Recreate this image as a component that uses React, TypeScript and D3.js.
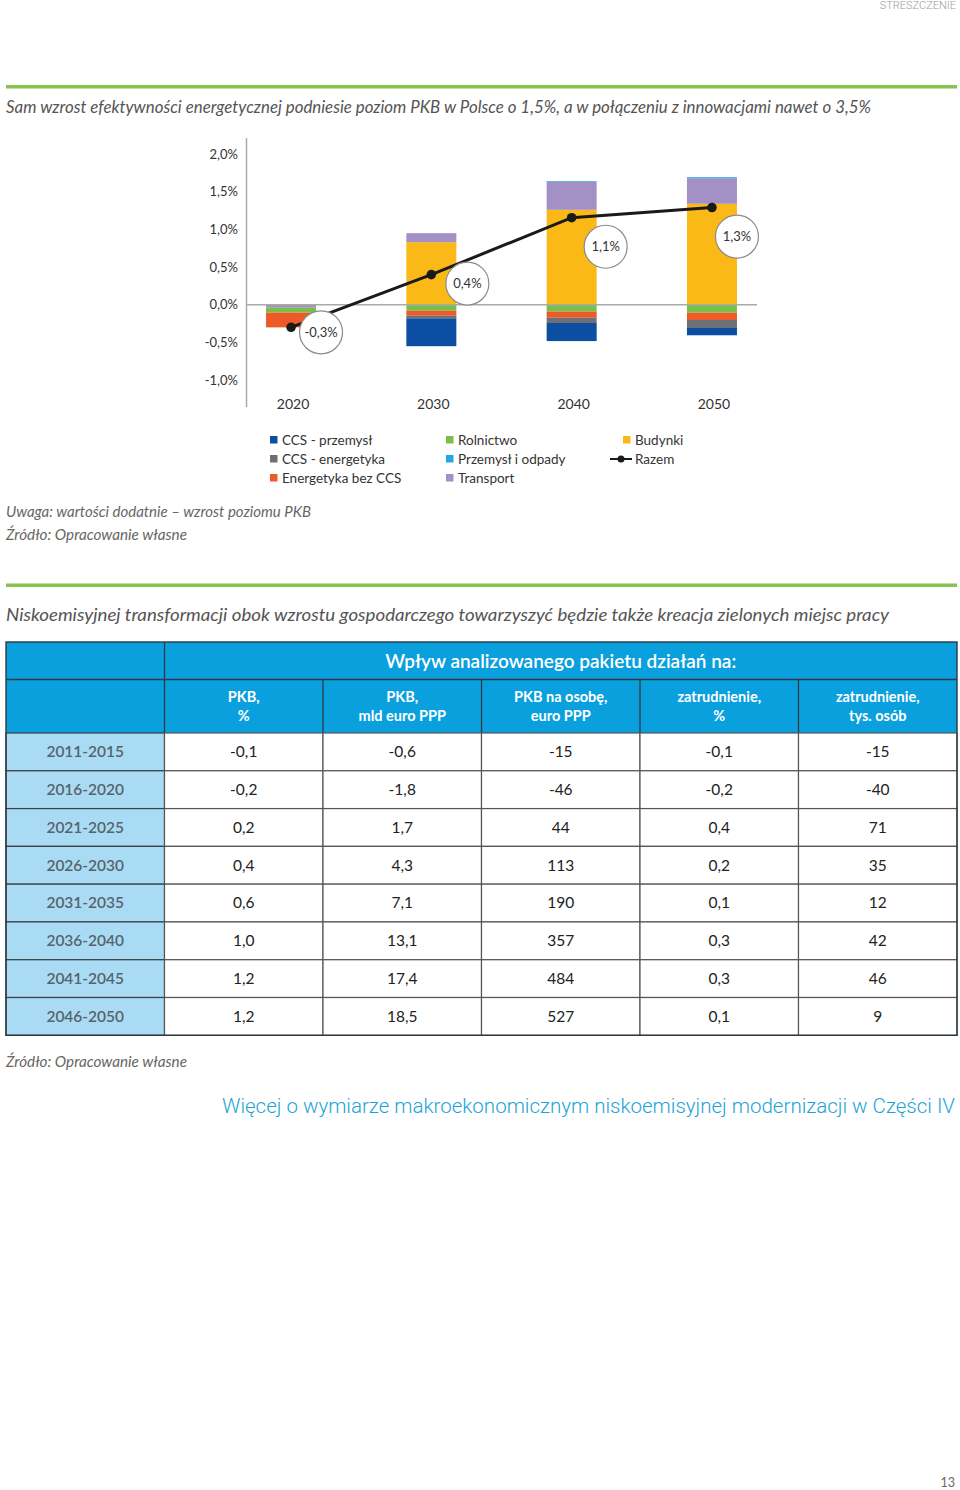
import React from 'react';
import * as d3 from 'd3';

// ---------- data ----------
const years = ['2020', '2030', '2040', '2050'];
const seriesKeys = ['Budynki', 'Transport', 'Przemysł i odpady', 'Rolnictwo', 'Energetyka bez CCS', 'CCS - energetyka', 'CCS - przemysł'];
const budynki = [0, 0.83, 1.26, 1.34];
const transport = [-0.04, 0.12, 0.37, 0.34];
const przemyslOdpady = [0, 0, 0.01, 0.013];
const rolnictwo = [-0.066, -0.08, -0.093, -0.106];
const energetykaBezCCS = [-0.195, -0.066, -0.08, -0.097];
const ccsEnergetyka = [0, -0.035, -0.07, -0.106];
const ccsPrzemysl = [0, -0.37, -0.24, -0.097];
const razem = [-0.3, 0.4, 1.155, 1.29];
const razemLabels = ['-0,3%', '0,4%', '1,1%', '1,3%'];
const yTicks = [-1, -0.5, 0, 0.5, 1, 1.5, 2];

const legendCol1 = ['CCS - przemysł', 'CCS - energetyka', 'Energetyka bez CCS'];
const legendCol2 = ['Rolnictwo', 'Przemysł i odpady', 'Transport'];
const legendCol3 = ['Budynki', 'Razem'];

const tablePeriods = ['2011-2015', '2016-2020', '2021-2025', '2026-2030', '2031-2035', '2036-2040', '2041-2045', '2046-2050'];
const colPkbPct = ['-0,1', '-0,2', '0,2', '0,4', '0,6', '1,0', '1,2', '1,2'];
const colPkbMld = ['-0,6', '-1,8', '1,7', '4,3', '7,1', '13,1', '17,4', '18,5'];
const colPkbOsobe = ['-15', '-46', '44', '113', '190', '357', '484', '527'];
const colZatrPct = ['-0,1', '-0,2', '0,4', '0,2', '0,1', '0,3', '0,3', '0,1'];
const colZatrTys = ['-15', '-40', '71', '35', '12', '42', '46', '9'];
const tableHeaders = [['PKB,', '%'], ['PKB,', 'mld euro PPP'], ['PKB na osobę,', 'euro PPP'], ['zatrudnienie,', '%'], ['zatrudnienie,', 'tys. osób']];

// ---------- styles ----------
const COLORS: Record<string, string> = {
  'Budynki': '#fbb918',
  'Transport': '#a391c6',
  'Przemysł i odpady': '#22a8de',
  'Rolnictwo': '#7cbf48',
  'Energetyka bez CCS': '#ee5a27',
  'CCS - energetyka': '#6f7073',
  'CCS - przemysł': '#0c4ea1',
};
const LABEL_OFFSETS = [[30, 5], [36, 9], [34, 29], [25, 29]];
const FONT = "Lato, 'Open Sans', sans-serif";

export default function App() {
  const values: Record<string, number[]> = {
    'Budynki': budynki,
    'Transport': transport,
    'Przemysł i odpady': przemyslOdpady,
    'Rolnictwo': rolnictwo,
    'Energetyka bez CCS': energetykaBezCCS,
    'CCS - energetyka': ccsEnergetyka,
    'CCS - przemysł': ccsPrzemysl,
  };
  const rows = years.map((y, i) => {
    const o: any = { year: y };
    seriesKeys.forEach((k) => (o[k] = values[k][i]));
    return o;
  });
  const stack = d3.stack<any>().keys(seriesKeys).offset(d3.stackOffsetDiverging)(rows);

  const x = d3.scalePoint<string>().domain(years).range([246, 757]).padding(0.321);
  const y = d3.scaleLinear().domain([-1, 2]).range([380, 154.1]);
  const barW = 50;

  const line = d3.line<number>().x((_, i) => x(years[i])!).y((d) => y(d));
  const fmtTick = (t: number) => d3.format('.1f')(t).replace('.', ',').replace('\u2212', '-') + '%';

  // table scales
  const colX = d3.scaleBand<number>().domain([0, 1, 2, 3, 4, 5]).range([6, 957]);
  const rowY = d3.scaleBand<number>().domain(d3.range(tablePeriods.length)).range([733, 1035.3]);
  const dataCols = [colPkbPct, colPkbMld, colPkbOsobe, colZatrPct, colZatrTys];

  const legendCols = [legendCol1, legendCol2, legendCol3];
  const legendX = [270, 446, 623];
  const legendY = d3.scalePoint<number>().domain([0, 1, 2]).range([440, 478]);

  return (
    <svg width={960} height={1490} style={{ position: 'absolute', left: 0, top: 0, background: '#fff' }} fontFamily={FONT}>
      {/* header */}
      <text x={956} y={9} textAnchor="end" fontSize={11} fill="#9a9a9a" fontFamily="'Roboto', sans-serif" fontWeight={300}>STRESZCZENIE</text>
      <rect x={6} y={85} width={951} height={3.5} fill="#87c24a" />
      <text x={6} y={113} fontSize={16.5} fontStyle="italic" fill="#555" textLength={865} lengthAdjust="spacingAndGlyphs">
        Sam wzrost efektywności energetycznej podniesie poziom PKB w Polsce o 1,5%, a w połączeniu z innowacjami nawet o 3,5%
      </text>

      {/* axis */}
      {yTicks.map((t) => (
        <text key={t} x={238} y={y(t)} dy="0.35em" textAnchor="end" fontSize={13} fill="#333">
          {fmtTick(t)}
        </text>
      ))}
      <line x1={246.5} x2={246.5} y1={138} y2={407} stroke="#aaa" strokeWidth={1.5} />

      {/* bars */}
      {stack.map((s) => (
        <g key={s.key} fill={COLORS[s.key]}>
          {s.map((d, i) => {
            const h = Math.abs(y(d[0]) - y(d[1]));
            if (h < 0.01) return null;
            return <rect key={i} x={x(years[i])! - barW / 2} y={Math.min(y(d[0]), y(d[1]))} width={barW} height={h} />;
          })}
        </g>
      ))}
      <line x1={246} x2={757} y1={y(0)} y2={y(0)} stroke="#aaa" strokeWidth={1.5} />

      {/* x labels */}
      {years.map((yr) => (
        <text key={yr} x={x(yr)! + 2} y={404} dy="0.35em" textAnchor="middle" fontSize={14} fill="#333">{yr}</text>
      ))}

      {/* total line */}
      <path d={line(razem) || ''} fill="none" stroke="#1a1a1a" strokeWidth={3} />
      {razem.map((v, i) => (
        <circle key={i} cx={x(years[i])} cy={y(v)} r={4.8} fill="#1a1a1a" />
      ))}
      {razem.map((v, i) => (
        <g key={'l' + i} transform={`translate(${x(years[i])! + LABEL_OFFSETS[i][0]},${y(v) + LABEL_OFFSETS[i][1]})`}>
          <circle r={21.5} fill="#fff" stroke="#8a8a8a" strokeWidth={1.2} />
          <text textAnchor="middle" dy="0.35em" fontSize={13} fill="#333">{razemLabels[i]}</text>
        </g>
      ))}

      {/* legend */}
      {legendCols.map((col, ci) =>
        col.map((name, ri) => (
          <g key={name} transform={`translate(${legendX[ci]},${legendY(ri)})`}>
            {name === 'Razem' ? (
              <g>
                <line x1={-13} x2={9} y1={0} y2={0} stroke="#1a1a1a" strokeWidth={2} />
                <circle cx={-2} cy={0} r={3.5} fill="#1a1a1a" />
              </g>
            ) : (
              <rect x={0} y={-4} width={7.5} height={7.5} fill={COLORS[name]} />
            )}
            <text x={12} dy="0.35em" fontSize={13.5} fill="#333">{name}</text>
          </g>
        ))
      )}

      {/* notes */}
      <text x={6} y={517} fontSize={14.5} fontStyle="italic" fill="#666" textLength={305} lengthAdjust="spacingAndGlyphs">Uwaga: wartości dodatnie – wzrost poziomu PKB</text>
      <text x={6} y={540} fontSize={14.5} fontStyle="italic" fill="#666" textLength={181} lengthAdjust="spacingAndGlyphs">Źródło: Opracowanie własne</text>

      <rect x={6} y={583.5} width={951} height={3.5} fill="#87c24a" />
      <text x={6} y={621} fontSize={16.5} fontStyle="italic" fill="#555" textLength={883} lengthAdjust="spacingAndGlyphs">
        Niskoemisyjnej transformacji obok wzrostu gospodarczego towarzyszyć będzie także kreacja zielonych miejsc pracy
      </text>

      {/* table header */}
      <rect x={6} y={642} width={951} height={91} fill="#0aa0de" />
      <line x1={colX(1)} x2={colX(1)} y1={642} y2={733} stroke="#2b3a44" strokeWidth={1.3} />
      <line x1={6} x2={957} y1={679.5} y2={679.5} stroke="#2b3a44" strokeWidth={1.3} />
      {[2, 3, 4, 5].map((c) => (
        <line key={c} x1={colX(c)} x2={colX(c)} y1={679.5} y2={733} stroke="#2b3a44" strokeWidth={1.3} />
      ))}
      <text x={(colX(1)! + 957) / 2} y={661} dy="0.35em" textAnchor="middle" fontSize={19} fontWeight={600} fill="#fff">
        Wpływ analizowanego pakietu działań na:
      </text>
      {tableHeaders.map((h, i) => (
        <g key={i}>
          <text x={colX(i + 1)! + colX.bandwidth() / 2} y={697} dy="0.35em" textAnchor="middle" fontSize={14.5} fontWeight={700} fill="#fff">{h[0]}</text>
          <text x={colX(i + 1)! + colX.bandwidth() / 2} y={716} dy="0.35em" textAnchor="middle" fontSize={14.5} fontWeight={700} fill="#fff">{h[1]}</text>
        </g>
      ))}

      {/* table body */}
      {tablePeriods.map((p, r) => (
        <g key={p}>
          <rect x={colX(0)} y={rowY(r)} width={colX.bandwidth()} height={rowY.bandwidth()} fill="#a9dcf4" stroke="#3a3f44" strokeWidth={1.2} />
          <text x={colX(0)! + colX.bandwidth() / 2} y={rowY(r)! + rowY.bandwidth() / 2} dy="0.35em" textAnchor="middle" fontSize={15.5} fontWeight={600} fill="#57636d">{p}</text>
          {dataCols.map((col, c) => (
            <g key={c}>
              <rect x={colX(c + 1)} y={rowY(r)} width={colX.bandwidth()} height={rowY.bandwidth()} fill="#fff" stroke="#555" strokeWidth={1.2} />
              <text x={colX(c + 1)! + colX.bandwidth() / 2} y={rowY(r)! + rowY.bandwidth() / 2} dy="0.35em" textAnchor="middle" fontSize={15.5} fill="#222">{col[r]}</text>
            </g>
          ))}
        </g>
      ))}
      <rect x={6} y={642} width={951} height={1035.3 - 642} fill="none" stroke="#2b3a44" strokeWidth={1.4} />

      {/* footer */}
      <text x={6} y={1067} fontSize={14.5} fontStyle="italic" fill="#666" textLength={181} lengthAdjust="spacingAndGlyphs">Źródło: Opracowanie własne</text>
      <text x={222} y={1113} fontSize={19.5} fontWeight={300} fill="#1ba3d7" fontFamily="'Roboto', sans-serif" textLength={733} lengthAdjust="spacingAndGlyphs">
        Więcej o wymiarze makroekonomicznym niskoemisyjnej modernizacji w Części IV
      </text>
      <text x={955} y={1487} textAnchor="end" fontSize={12.5} fill="#666">13</text>
    </svg>
  );
}
